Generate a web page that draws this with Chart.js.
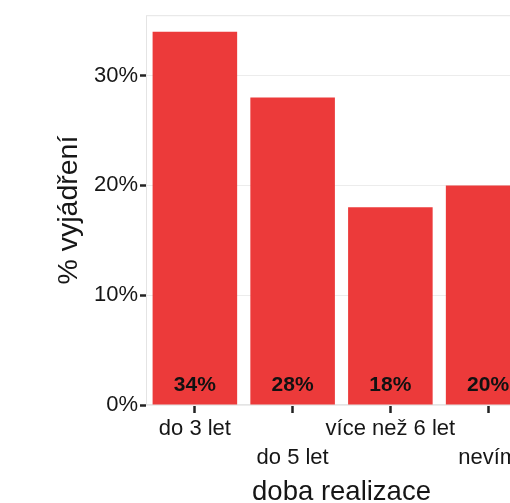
<!DOCTYPE html>
<html>
<head>
<meta charset="utf-8">
<script src="https://cdn.jsdelivr.net/npm/chart.js@4/dist/chart.umd.min.js"></script>
<style>
  html, body { margin: 0; padding: 0; background: #ffffff; overflow: hidden; }
  #wrap { width: 560px; height: 503px; }
</style>
</head>
<body>
<div id="wrap"><canvas id="c" width="560" height="503"></canvas></div>
<script>
// Categories (implementation period) and share of responses in percent
const categories = ['do 3 let', 'do 5 let', 'více než 6 let', 'nevím'];
const shares = [34, 28, 18, 20];
const yTicks = [0, 10, 20, 30];
const xTitle = 'doba realizace';
const yTitle = '% vyjádření';

const FONT = '"Liberation Sans", Arial, sans-serif';
const TEXT = '#161616';
const BAR = '#EC3A3A';

// Alternate label rows so long category names do not collide
const staggered = categories.map((c, i) => (i % 2 === 0 ? [c] : ['', c]));

const panelFrame = {
  id: 'panelFrame',
  beforeDatasetsDraw(chart) {
    const { ctx, chartArea: a } = chart;
    ctx.save();
    ctx.strokeStyle = '#e4e4e4';
    ctx.lineWidth = 1;
    ctx.strokeRect(a.left + 0.5, a.top + 0.5, a.right - a.left - 1, a.bottom - a.top - 1);
    ctx.restore();
  }
};

const barLabels = {
  id: 'barLabels',
  afterDatasetsDraw(chart) {
    const { ctx } = chart;
    const y0 = chart.scales.y.getPixelForValue(0);
    const meta = chart.getDatasetMeta(0);
    ctx.save();
    ctx.font = 'bold 21px ' + FONT;
    ctx.fillStyle = '#111111';
    ctx.textAlign = 'center';
    ctx.textBaseline = 'alphabetic';
    meta.data.forEach((bar, i) => {
      ctx.fillText(shares[i] + '%', bar.x, y0 - 14);
    });
    ctx.restore();
  }
};

const axisTitles = {
  id: 'axisTitles',
  afterDraw(chart) {
    const { ctx, chartArea: a } = chart;
    ctx.save();
    ctx.fillStyle = TEXT;
    ctx.textAlign = 'center';
    ctx.textBaseline = 'alphabetic';
    ctx.font = '27.5px ' + FONT;
    ctx.fillText(xTitle, (a.left + a.right) / 2, 500);
    ctx.font = '28.5px ' + FONT;
    ctx.translate(77, (a.top + a.bottom) / 2);
    ctx.rotate(-Math.PI / 2);
    ctx.fillText(yTitle, 0, 0);
    ctx.restore();
  }
};

new Chart(document.getElementById('c'), {
  type: 'bar',
  data: {
    labels: staggered,
    datasets: [{
      data: shares,
      backgroundColor: BAR,
      borderWidth: 0,
      categoryPercentage: 1.0,
      barPercentage: 0.865
    }]
  },
  options: {
    responsive: false,
    animation: false,
    devicePixelRatio: 1,
    layout: { padding: { left: 0, right: 23, top: 15, bottom: 0 } },
    plugins: { legend: { display: false }, tooltip: { enabled: false } },
    scales: {
      x: {
        offset: true,
        border: { display: false },
        grid: {
          drawOnChartArea: false,
          drawTicks: true,
          tickLength: 8,
          tickColor: '#222222',
          tickWidth: 2.5,
          offset: false
        },
        ticks: {
          color: TEXT,
          font: { family: FONT, size: 22, lineHeight: 1.3 },
          padding: 2,
          maxRotation: 0,
          autoSkip: false
        },
        afterFit(scale) { scale.height = 98; }
      },
      y: {
        min: 0,
        max: 35.5,
        border: { display: false },
        grid: {
          color: '#ececec',
          lineWidth: 1,
          tickColor: '#222222',
          tickWidth: 2.5,
          tickLength: 6
        },
        afterBuildTicks(scale) {
          scale.ticks = yTicks.map(v => ({ value: v }));
        },
        ticks: {
          color: TEXT,
          font: { family: FONT, size: 22 },
          padding: 2,
          callback: v => v + '%'
        },
        afterFit(scale) { scale.width = 146; }
      }
    }
  },
  plugins: [panelFrame, barLabels, axisTitles]
});
</script>
</body>
</html>
